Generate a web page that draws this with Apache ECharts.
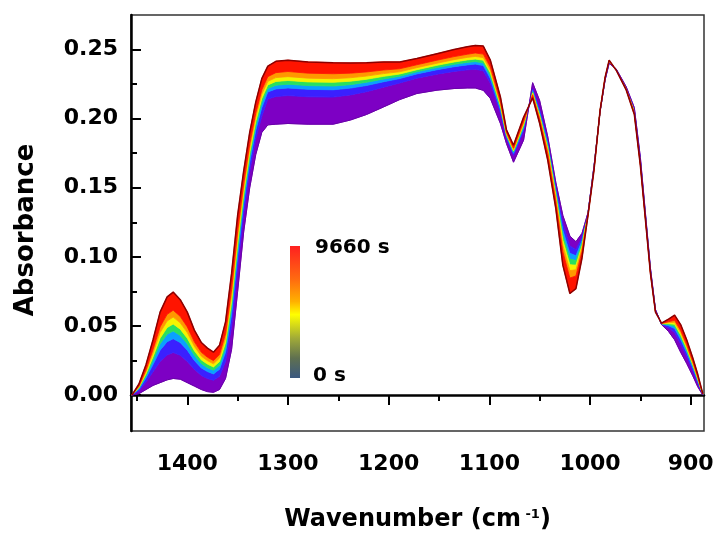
<!DOCTYPE html>
<html>
<head>
<meta charset="utf-8">
<script src="https://cdn.jsdelivr.net/npm/echarts@6.0.0/dist/echarts.min.js"></script>
<style>
  body { margin: 0; background: #fff; }
  #spectra { width: 717px; height: 534px; }
</style>
</head>
<body>
<div id="spectra"></div>
<script>
const wavenumber = [1455, 1448, 1441, 1434, 1427, 1420, 1414, 1407, 1400, 1393,
  1386, 1380, 1374, 1368, 1362, 1356, 1350, 1344, 1338, 1332,
  1326, 1320, 1312, 1300, 1280, 1255, 1238, 1222, 1205, 1189,
  1172, 1152, 1135, 1122, 1114, 1106, 1099, 1089, 1083, 1076,
  1066, 1057, 1050, 1042, 1034, 1027, 1020, 1014, 1008, 1002,
  996, 990, 985, 981, 974, 964, 956, 950, 945, 940,
  935, 929, 922, 916, 910, 904, 898, 893, 888];

// first spectrum (0 s, purple edge)
const abs0s = [0, .001, .004, .007, .009, .011, .012, .0115, .009, .0065,
  .004, .0025, .002, .004, .012, .033, .075, .118, .150, .174,
  .190, .1955, .196, .1965, .196, .196, .199, .203, .2085, .2138,
  .2182, .2206, .2218, .2222, .2222, .2205, .2146, .1965, .182, .1685,
  .1844, .226, .213, .187, .154, .130, .115, .111, .117, .132,
  .166, .205, .228, .240, .236, .223, .208, .172, .132, .092,
  .062, .051, .046, .040, .031, .0229, .014, .006, 0];

// boundaries between the colour bands of the intermediate spectra
const bandBlue = [0, .0031, .0094, .0169, .0243, .029, .0308, .0288, .0243, .0187,
  .0142, .012, .0107, .0136, .0243, .0495, .0915, .1312, .162, .1854,
  .2017, .2142, .216, .2167, .2158, .2156, .2172, .2195, .2228, .2258,
  .2293, .2322, .2342, .2353, .2358, .2346, .2257, .2042, .186, .1734,
  .191, .2216, .2064, .1841, .1508, .1239, .1079, .1052, .1139, .1317,
  .1655, .2053, .2286, .2407, .2357, .2223, .2065, .1702, .1305, .0908,
  .0614, .0513, .0487, .0453, .037, .028, .0179, .0087, .0003];

const bandCyan = [0, .0042, .0123, .0222, .0325, .0386, .0408, .038, .0325, .0251,
  .0196, .017, .0153, .0187, .0309, .0583, .1003, .1382, .1684, .1915,
  .2079, .2193, .2215, .2222, .2212, .2209, .2221, .224, .2267, .229,
  .2324, .2354, .2376, .2389, .2395, .2384, .229, .2065, .1872, .1749,
  .193, .2203, .2044, .1819, .1483, .1192, .1026, .1008, .1116, .1314,
  .1651, .2055, .2289, .2411, .2355, .2219, .2057, .1692, .1297, .0902,
  .0611, .0515, .0501, .0482, .0402, .0308, .020, .0101, .0005];

const bandGreen = [0, .0049, .0139, .0252, .0371, .044, .0464, .0431, .0371, .0288,
  .0227, .0198, .018, .0216, .0346, .0633, .1053, .1422, .172, .1949,
  .2115, .2219, .2242, .2249, .2239, .2236, .2246, .2263, .2287, .2307,
  .2339, .237, .2393, .2407, .2413, .2403, .2312, .208, .188, .1759,
  .1944, .2194, .2031, .1802, .1464, .1156, .0984, .0974, .1098, .1312,
  .1648, .2056, .2291, .2413, .2355, .2217, .2053, .1687, .1293, .0898,
  .0609, .0516, .051, .0498, .042, .0323, .0212, .011, .0006];

const bandYellow = [0, .0054, .0153, .0278, .0411, .0488, .0514, .0477, .0411, .032,
  .0254, .0224, .0203, .0242, .0378, .0677, .1097, .1457, .1752, .1979,
  .2146, .2244, .2269, .2276, .2266, .2263, .2271, .2285, .2306, .2323,
  .2354, .2386, .241, .2425, .2431, .2423, .2332, .2094, .1887, .1767,
  .1955, .2186, .2019, .1785, .1445, .112, .0943, .094, .108, .131,
  .1645, .2056, .2293, .2414, .2354, .2215, .2049, .1682, .1289, .0895,
  .0607, .0516, .0517, .0512, .0436, .0337, .0222, .0117, .0006];

const bandOrange = [0, .006, .0168, .0304, .0452, .0536, .0564, .0523, .0452, .0353,
  .0281, .0249, .0226, .0267, .0411, .0721, .1141, .1492, .1784, .201,
  .2177, .227, .2297, .2304, .2293, .2289, .2296, .2308, .2326, .2339,
  .2369, .2401, .2427, .2443, .245, .2442, .2351, .2107, .1894, .1776,
  .1967, .2179, .2008, .1768, .1426, .1084, .0901, .0906, .1062, .1308,
  .1642, .2057, .2294, .2416, .2353, .2213, .2045, .1677, .1285, .0892,
  .0606, .0517, .0524, .0526, .0452, .035, .0232, .0124, .0007];

const bandRed = [0, .0065, .0182, .0331, .0493, .0584, .0614, .0569, .0493, .0385,
  .0309, .0274, .0249, .0293, .0444, .0765, .1185, .1528, .1816, .204,
  .2208, .2304, .2333, .2341, .2329, .2325, .2329, .2338, .2352, .2361,
  .239, .2423, .2449, .2466, .2475, .2467, .2373, .2122, .1902, .1786,
  .198, .217, .1995, .1746, .1401, .1037, .0847, .0862, .1039, .1305,
  .1638, .2058, .2296, .2418, .2352, .2211, .2041, .1673, .1281, .0888,
  .0604, .0518, .0531, .0541, .0468, .0364, .0243, .0131, .0008];

// last spectrum (9660 s, dark red edge)
const abs9660s = [0, .008, .022, .040, .060, .071, .0745, .069, .060, .047,
  .038, .034, .031, .036, .053, .088, .130, .162, .190, .212,
  .229, .238, .2415, .2423, .241, .2405, .2403, .2405, .241, .241,
  .2435, .247, .250, .252, .253, .2525, .2423, .2157, .192, .1808,
  .201, .215, .1965, .170, .135, .094, .0735, .077, .099, .130,
  .163, .206, .230, .2423, .235, .2206, .203, .166, .127, .088,
  .060, .052, .055, .0578, .051, .040, .027, .015, .001];

const xTicks = [900, 1000, 1100, 1200, 1300, 1400];
const xMinorTicks = [950, 1050, 1150, 1250, 1350, 1450];
const yTicks = [0, 0.05, 0.1, 0.15, 0.2, 0.25];
const yMinorTicks = [0.025, 0.075, 0.125, 0.175, 0.225];
const timeLabels = ["9660 s", "0 s"];

var myChart = echarts.init(document.getElementById("spectra"));

const bandColors = ["#7d00c4", "#3a20ff", "#0aa0ff", "#28e060", "#f4f400", "#ff9800", "#ff1400"];
const bounds = [abs0s, bandBlue, bandCyan, bandGreen, bandYellow, bandOrange, bandRed, abs9660s];
const FONT = "DejaVu Sans";

// one filled polygon per colour band, between two neighbouring spectra
function renderBand(params, api) {
  const k = api.value(2);
  const upper = bounds[k + 1];
  const lower = bounds[k];
  const pts = [];
  for (let i = 0; i < wavenumber.length; i++) {
    pts.push(api.coord([wavenumber[i], upper[i]]));
  }
  for (let i = wavenumber.length - 1; i >= 0; i--) {
    pts.push(api.coord([wavenumber[i], lower[i]]));
  }
  return {
    type: "polygon",
    shape: { points: pts },
    style: { fill: bandColors[k], stroke: bandColors[k], lineWidth: 0.8 },
  };
}

var series = [
  {
    type: "custom",
    renderItem: renderBand,
    silent: true,
    clip: true,
    encode: { x: 0, y: 1 },
    data: bandColors.map((c, k) => [1200, 0.1, k]),
  },
  {
    type: "line",
    symbol: "none",
    silent: true,
    lineStyle: { width: 1, color: "#6800a8" },
    data: wavenumber.map((w, i) => [w, abs0s[i]]),
  },
  {
    type: "line",
    symbol: "none",
    silent: true,
    lineStyle: { width: 1.5, color: "#8b0000" },
    data: wavenumber.map((w, i) => [w, abs9660s[i]]),
  },
];

var option = {
  animation: false,
  backgroundColor: "#fff",
  grid: {
    left: 131,
    right: 13,
    top: 15,
    bottom: 103,
    outerBoundsMode: "none",
    show: true,
    borderColor: "#333",
    borderWidth: 1.5,
  },
  xAxis: [
    {
      type: "value",
      inverse: true,
      min: 886.8,
      max: 1455.9,
      position: "bottom",
      axisLine: { lineStyle: { color: "#000", width: 2.5 } },
      axisTick: {
        length: 10,
        customValues: xTicks,
        lineStyle: { color: "#000", width: 2 },
      },
      axisLabel: {
        customValues: xTicks,
        formatter: (v) => String(v),
        margin: 22,
        color: "#000",
        fontFamily: FONT,
        fontWeight: "bold",
        fontSize: 22,
      },
      splitLine: { show: false },
      name: "Wavenumber (cm{sup| -1})",
      nameLocation: "middle",
      nameGap: 77,
      nameTextStyle: {
        color: "#000",
        fontFamily: FONT,
        fontWeight: "bold",
        fontSize: 24,
        rich: {
          sup: {
            fontFamily: FONT,
            fontWeight: "bold",
            fontSize: 13,
            verticalAlign: "top",
            color: "#000",
          },
        },
      },
    },
    {
      type: "value",
      inverse: true,
      min: 886.8,
      max: 1455.9,
      position: "bottom",
      axisLine: { show: false },
      axisLabel: { show: false },
      splitLine: { show: false },
      axisTick: {
        length: 6,
        customValues: xMinorTicks,
        lineStyle: { color: "#000", width: 2 },
      },
    },
  ],
  yAxis: [
    {
      type: "value",
      min: -0.026,
      max: 0.275,
      position: "left",
      axisLine: { show: true, lineStyle: { color: "#000", width: 2.5 } },
      axisTick: {
        show: true,
        inside: true,
        length: 10,
        customValues: yTicks,
        lineStyle: { color: "#000", width: 2 },
      },
      axisLabel: {
        customValues: yTicks,
        formatter: (v) => v.toFixed(2),
        margin: 13,
        color: "#000",
        fontFamily: FONT,
        fontWeight: "bold",
        fontSize: 22,
      },
      splitLine: { show: false },
      name: "Absorbance",
      nameLocation: "middle",
      nameGap: 92,
      nameTextStyle: {
        color: "#000",
        fontFamily: FONT,
        fontWeight: "bold",
        fontSize: 26,
        padding: [0, 14, 0, 0],
      },
    },
    {
      type: "value",
      min: -0.026,
      max: 0.275,
      position: "left",
      axisLine: { show: false },
      axisLabel: { show: false },
      splitLine: { show: false },
      axisTick: {
        show: true,
        inside: true,
        length: 6,
        customValues: yMinorTicks,
        lineStyle: { color: "#000", width: 2 },
      },
    },
  ],
  graphic: [
    {
      type: "rect",
      shape: { x: 290, y: 246, width: 10, height: 132 },
      style: {
        fill: new echarts.graphic.LinearGradient(0, 0, 0, 1, [
          { offset: 0, color: "#ff2020" },
          { offset: 0.25, color: "#ff6a10" },
          { offset: 0.42, color: "#ffb000" },
          { offset: 0.52, color: "#ffff00" },
          { offset: 0.7, color: "#a0aa38" },
          { offset: 0.85, color: "#5f7050" },
          { offset: 1, color: "#3a5880" },
        ]),
      },
    },
    {
      type: "text",
      left: 315,
      top: 238,
      style: { text: timeLabels[0], font: 'bold 20px "DejaVu Sans"', fill: "#000" },
    },
    {
      type: "text",
      left: 313,
      top: 366,
      style: { text: timeLabels[1], font: 'bold 20px "DejaVu Sans"', fill: "#000" },
    },
  ],
  series: series,
};
myChart.setOption(option);
</script>
</body>
</html>
